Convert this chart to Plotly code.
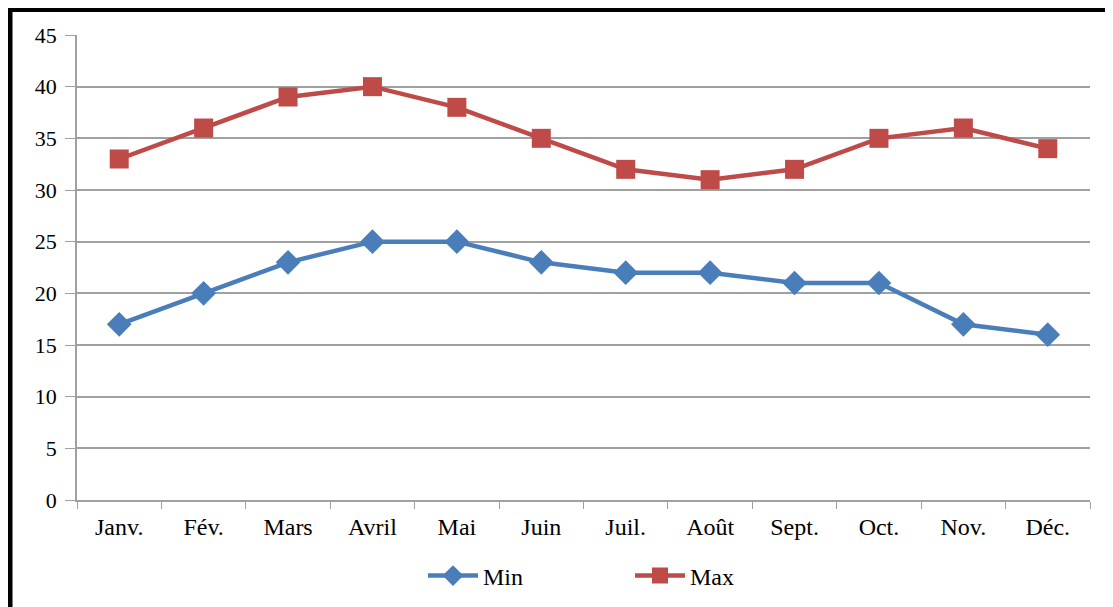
import plotly.graph_objects as go

months = ["Janv.", "Fév.", "Mars", "Avril", "Mai", "Juin", "Juil.", "Août", "Sept.", "Oct.", "Nov.", "Déc."]
min_vals = [17, 20, 23, 25, 25, 23, 22, 22, 21, 21, 17, 16]
max_vals = [33, 36, 39, 40, 38, 35, 32, 31, 32, 35, 36, 34]

# The page body has an 8px margin, so figure coordinates = window coordinates - 8
OFF = 8
W, H = 1113, 607
L = 77 - OFF
T = 35 - OFF
R = W - (1090 - OFF)
B = H - (500 - OFF)
pw, ph = W - L - R, H - T - B

def px_to_paper_x(wx):
    return (wx - OFF - L) / pw

def px_to_paper_y(wy):
    return ((500 - OFF) - (wy - OFF)) / ph

fig = go.Figure()
fig.add_trace(go.Scatter(x=months, y=min_vals, name="Min", mode="lines+markers",
                         line=dict(color="#4a7ebb", width=4.5),
                         marker=dict(symbol="diamond", size=19, color="#4a7ebb")))
fig.add_trace(go.Scatter(x=months, y=max_vals, name="Max", mode="lines+markers",
                         line=dict(color="#be4b48", width=4.5),
                         marker=dict(symbol="square", size=19, color="#be4b48")))

font = dict(family="Liberation Serif", size=22, color="black")
font_x = dict(family="Liberation Serif", size=24, color="black")

fig.update_layout(
    width=W, height=H,
    margin=dict(l=L, r=R, t=T, b=B, autoexpand=False),
    paper_bgcolor="white", plot_bgcolor="white",
    font=font,
    showlegend=True,
    legend=dict(orientation="h", x=px_to_paper_x(423), xanchor="left", y=px_to_paper_y(576),
                yanchor="middle", font=font_x, itemwidth=50,
                entrywidthmode="pixels", entrywidth=142),
    xaxis=dict(type="category", range=[-0.5, 11.5], tickson="boundaries", ticks="outside",
               ticklen=7, tickcolor="#a0a0a0", showline=True, linecolor="#a0a0a0", linewidth=2,
               showgrid=False, tickfont=font_x, ticklabelstandoff=4),
    yaxis=dict(range=[0, 45], dtick=5, ticks="outside", ticklen=10, tickcolor="#a0a0a0",
               showline=True, linecolor="#a0a0a0", linewidth=1.5,
               showgrid=True, gridcolor="#a0a0a0", gridwidth=1.5, zeroline=False,
               tickfont=font, ticklabelstandoff=4),
)

# black frame (only left and top edges visible in the window)
fig.add_shape(type="rect", xref="paper", yref="paper",
              x0=px_to_paper_x(OFF + 2), x1=px_to_paper_x(1200),
              y0=px_to_paper_y(700), y1=px_to_paper_y(OFF + 1.5),
              line=dict(color="black", width=5), fillcolor="rgba(0,0,0,0)", layer="above")

fig.write_html("out.html")
